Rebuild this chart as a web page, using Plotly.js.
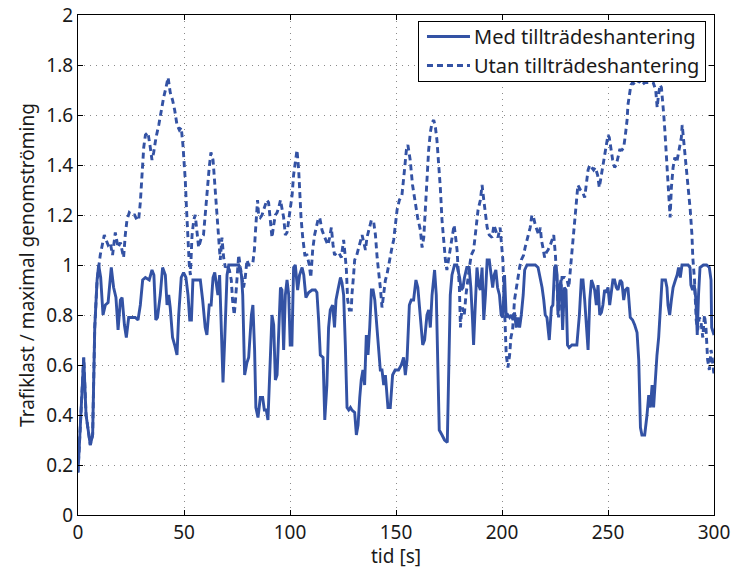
<!DOCTYPE html>
<html>
<head>
<meta charset="utf-8">
<script src="https://cdn.plot.ly/plotly-3.0.1.min.js"></script>
<style>html,body{margin:0;padding:0;background:#fff;}#chart{width:732px;height:571px;}</style>
</head>
<body>
<div id="chart"></div>
<script>
// Series names
const seriesNames = ["Med tillträdeshantering", "Utan tillträdeshantering"];
const xTitle = "tid [s]";
const yTitle = "Trafiklast / maximal genomströming";

// Med tillträdeshantering (solid)
const tMed = [0,2.7,3.8,5.8,6.9,7.9,9.0,9.75,10.7,11.8,12.9,14.2,15.7,16.8,17.9,18.9,20,20.8,21.9,22.8,23.9,27,28.3,29.4,30.5,31.8,33.6,34.9,35.8,36.7,37.5,38.8,39.9,41.2,42,42.8,43.5,44.6,45.6,46.7,47.5,48.7,49.8,50.9,51.9,52.7,53.5,54.2,55.3,57.7,58.8,60,60.8,61.9,62.8,63.7,64.5,65.2,66,66.8,67.6,68.4,69.2,70.3,71.1,75.8,77.1,77.7,78.6,79.7,80.5,81.8,82.5,83.3,83.9,84.9,86,87.1,87.9,88.8,89.6,90.7,91.5,92.3,93.1,93.9,94.7,95.5,96.2,97,97.8,98.6,99.4,100.1,100.9,101.7,102.5,103.6,104.5,105.7,106.5,107.5,108.8,110.4,111.9,112.7,113.5,114.3,115.6,116.4,117.4,118.2,119,120.1,121,121.7,122.6,123.8,124.5,125.3,126.1,126.9,127.7,128.5,129.2,130.5,131.3,132.1,132.9,133.6,134.4,135.2,136,136.8,137.6,138.4,139.2,140,141.1,141.8,142.6,143.4,144.2,145,146.2,147.3,148.4,149.6,151.2,152.5,153.6,154.4,155.2,156.3,157.2,158.3,159.4,160.3,161.4,162.6,163.5,164.6,165.4,166.2,167,168.2,169,169.8,170.4,171.7,172.9,174.2,174.8,175.6,176.4,177.6,178.7,180,180.8,181.6,182.3,183.4,184.5,185.3,186.1,186.6,187.3,188.2,189,189.8,190.6,191.4,192.2,193,194,194.8,195.6,196.3,197.1,197.9,198.8,199.6,200.4,201.2,202,202.8,203.6,204.4,205.2,205.9,206.7,207.5,208.3,209.1,210,210.7,211.8,213.4,215.7,217,218.1,218.9,219.7,220.4,221.2,222.3,223.3,224,224.8,225.4,226,226.4,227,227.8,228.6,229.4,230.2,230.9,231.7,233,235.3,236.5,237.4,238.2,239,239.8,240.6,241.4,242.2,243,243.7,244.5,245.3,246.1,246.9,247.6,248.4,249.2,250,250.8,251.5,252.3,253.1,253.9,254.7,255.8,256.6,257.4,258.2,259.4,260.5,261.6,262.6,263.7,264.5,265.3,266,267.3,268.4,269.2,270,270.8,271.5,272.3,273.1,273.9,274.7,275.5,277.1,277.8,278.3,279.1,279.9,280.7,281.8,282.6,283.3,284.1,284.9,285.9,286.9,287.8,288.7,289.1,289.9,290.7,291.5,292.1,292.7,293.4,295,296.5,297.8,298.6,298.9,300];
const vMed = [0.17,0.63,0.40,0.28,0.32,0.75,0.94,1.0,0.95,0.80,0.84,0.85,0.99,0.91,0.87,0.74,0.86,0.87,0.76,0.71,0.79,0.79,0.78,0.84,0.94,0.95,0.94,0.98,0.96,0.78,0.79,0.88,0.99,0.96,0.84,0.88,0.83,0.71,0.68,0.64,0.80,0.95,0.97,0.95,0.88,0.78,0.78,0.94,0.94,0.94,0.86,0.75,0.72,0.84,0.84,0.95,0.97,0.93,0.88,0.96,0.75,0.53,0.70,0.96,1.0,1.0,0.96,0.88,0.56,0.61,0.63,0.80,0.84,0.66,0.43,0.39,0.47,0.47,0.42,0.42,0.38,0.59,0.80,0.76,0.54,0.56,0.75,0.91,0.90,0.66,0.88,0.94,0.88,0.68,0.68,0.99,1.0,0.90,0.96,0.99,0.96,0.87,0.89,0.90,0.90,0.89,0.78,0.64,0.63,0.38,0.52,0.75,0.82,0.84,0.75,0.86,0.90,0.95,0.93,0.88,0.68,0.43,0.42,0.43,0.42,0.41,0.32,0.36,0.47,0.54,0.58,0.52,0.72,0.64,0.75,0.90,0.90,0.86,0.74,0.67,0.58,0.58,0.52,0.56,0.43,0.43,0.56,0.58,0.58,0.60,0.63,0.56,0.62,0.84,0.86,0.86,0.94,0.91,0.78,0.68,0.70,0.80,0.82,0.75,0.88,0.98,0.88,0.62,0.34,0.32,0.30,0.29,0.62,0.88,0.96,1.0,1.0,0.95,0.90,0.91,0.95,0.99,0.99,0.91,0.78,0.68,0.82,0.99,0.92,0.90,0.99,0.78,0.88,1.02,1.02,0.95,0.91,0.96,0.98,0.91,0.88,0.80,0.79,0.96,0.79,0.80,0.79,0.80,0.78,0.81,0.75,0.79,0.75,0.80,0.88,0.98,1.0,1.0,1.0,0.99,0.95,0.91,0.86,0.80,0.79,0.70,0.83,0.84,0.99,1.0,0.96,0.80,0.90,0.94,0.74,0.91,0.90,0.68,0.67,0.68,0.68,0.80,0.94,0.94,0.86,0.75,0.66,0.86,0.94,0.92,0.90,0.84,0.92,0.80,0.81,0.84,0.90,0.89,0.91,0.84,0.88,0.94,0.94,0.91,0.90,0.94,0.93,0.86,0.90,0.91,0.79,0.78,0.76,0.73,0.62,0.35,0.32,0.32,0.40,0.48,0.43,0.52,0.43,0.55,0.64,0.71,0.82,0.94,0.94,0.91,0.84,0.80,0.86,0.91,0.94,0.96,0.99,0.95,1.0,1.0,1.0,1.0,0.99,0.92,0.90,0.92,0.86,0.72,0.88,0.99,1.0,1.0,0.99,0.94,0.75,0.72];

// Utan tillträdeshantering (dashed)
const tUtan = [0,2.7,3.8,5.8,6.9,7.9,9.0,9.75,10.5,12.4,14.2,15.2,16.3,17.6,18.9,20,21.5,22.3,23.1,24.2,25.5,26.7,27.8,28.6,29.4,30.2,31,31.8,33,34.1,34.9,35.7,36.8,38.1,39.3,40.4,41.5,42.5,43.5,44.6,45.6,46.7,47.8,48.7,49.5,50.3,50.6,51.1,51.6,51.9,52.5,53.0,53.5,53.8,54.6,55.3,56.9,58.2,59.2,60,60.8,61.9,62.7,63.7,64.3,65,65.9,66.7,67.1,67.9,68.7,69.5,70.3,71.4,72.3,72.9,73.7,74.2,75,75.8,76.6,78.1,78.9,79.7,80.5,81.6,82.5,83.2,83.6,84.1,84.7,85.2,86,86.8,88.2,89.1,89.9,90.7,91.5,92.3,93.1,93.9,94.7,95.5,96.2,97,97.8,98.6,99.4,100.1,101,101.7,102.5,103.3,104.1,104.6,105.2,106,107,108,109.1,109.8,110.7,111.6,112.5,113.2,114,115.1,116.4,117.9,118.7,119.5,120.3,121,122.2,123,124.2,125.3,126.1,126.6,127.2,128,128.9,129.2,130,130.5,131.5,132.4,133.2,134,134.8,135.6,136.3,137.1,138.4,139.5,140.3,141.1,141.8,142.6,143.4,144.2,145,145.7,146.5,147.3,148.1,148.9,149.6,150.5,151.6,152.8,154,154.9,155.6,156.7,157.8,159.1,160.2,161.5,162.3,163.1,163.8,164.6,165.4,166.2,167,167.8,168.6,169.3,170.1,170.9,171.7,172.5,173.3,174,174.8,175.6,176.4,177.4,178,178.8,179.2,179.9,180.4,180.8,181.4,182.2,183,183.9,184.6,185.5,186.6,187.4,188.2,188.7,189.8,190.6,191.4,192.2,193,194,195.3,196.2,197.1,198.1,199.1,199.9,200.4,200.7,201.2,201.6,202,202.8,203.6,204.2,205,205.9,206.7,207.5,208.3,209.1,210.2,210.9,211.8,212.6,213.3,214.1,214.9,215.7,216.5,217.3,218.1,218.6,219.3,220.1,220.9,221.7,222.8,223.6,224.4,225.2,226,226.7,227.5,228.3,229.6,230.7,231.5,232.3,233.1,233.9,234.3,235,235.8,237,238.1,239,239.8,240.6,241.4,242.2,243.2,244,245.1,245.9,246.7,247.5,248.4,249.2,250,250.6,251.4,252.2,253.1,253.9,254.7,255.5,256.6,257.4,258.2,259,259.4,260.2,260.8,261.6,262.8,264.3,265.9,267.4,269.8,271.3,272.5,273.2,273.7,274.5,275.2,275.7,276.3,276.8,277.3,277.9,278.4,278.8,279.3,279.9,280.7,281.5,282.4,283.3,284.1,284.6,285,285.7,286.5,287.2,288,288.8,289.6,290,290.8,291.6,292.3,293.1,293.9,294.7,295.5,296.2,297,297.8,298.6,299,300];
const vUtan = [0.17,0.63,0.40,0.28,0.32,0.75,0.94,1.0,1.04,1.12,1.08,1.09,1.04,1.13,1.07,1.09,1.03,1.12,1.18,1.21,1.20,1.20,1.18,1.18,1.25,1.36,1.47,1.52,1.53,1.47,1.42,1.45,1.51,1.56,1.62,1.67,1.71,1.75,1.69,1.66,1.62,1.56,1.54,1.55,1.48,1.40,1.34,1.24,1.15,1.07,1.00,0.96,1.05,1.12,1.18,1.20,1.07,1.11,1.12,1.20,1.31,1.39,1.45,1.42,1.35,1.26,1.15,1.06,1.02,1.11,1.03,0.99,1.00,0.98,0.94,0.86,0.80,0.85,0.94,1.04,0.99,0.91,0.95,1.02,1.00,1.00,1.01,1.06,1.12,1.20,1.26,1.20,1.19,1.20,1.24,1.26,1.25,1.19,1.11,1.16,1.20,1.21,1.23,1.26,1.22,1.19,1.12,1.13,1.18,1.22,1.28,1.36,1.42,1.46,1.38,1.28,1.19,1.11,1.04,1.04,1.00,0.95,1.06,1.12,1.16,1.18,1.19,1.14,1.11,1.08,1.11,1.15,1.08,1.04,1.05,1.05,1.03,1.10,1.03,0.98,0.86,0.82,0.82,0.88,0.96,1.02,1.04,1.07,1.10,1.12,1.09,1.06,1.11,1.14,1.18,1.17,1.12,1.03,0.98,0.91,0.83,0.88,0.94,0.96,1.00,1.04,1.07,1.10,1.16,1.22,1.26,1.28,1.38,1.46,1.48,1.42,1.32,1.24,1.19,1.14,1.07,1.11,1.23,1.38,1.46,1.53,1.57,1.58,1.55,1.50,1.42,1.31,1.18,1.08,1.02,0.98,1.02,1.06,1.10,1.16,1.12,1.06,1.00,0.91,0.75,0.80,0.83,0.80,0.88,0.95,0.99,1.04,1.06,1.12,1.20,1.22,1.26,1.32,1.26,1.20,1.15,1.12,1.11,1.16,1.14,1.11,1.15,1.07,1.02,0.94,0.80,0.72,0.64,0.59,0.64,0.71,0.74,0.86,0.91,0.95,0.99,1.02,1.04,1.07,1.10,1.12,1.15,1.20,1.19,1.16,1.14,1.12,1.15,1.10,1.07,1.03,1.05,1.06,1.08,1.10,1.12,1.04,0.88,0.79,0.88,0.95,0.95,0.94,0.91,0.99,1.07,1.15,1.20,1.27,1.32,1.30,1.29,1.27,1.32,1.38,1.40,1.39,1.38,1.39,1.36,1.31,1.35,1.39,1.44,1.47,1.52,1.51,1.46,1.42,1.39,1.40,1.43,1.46,1.46,1.47,1.52,1.58,1.64,1.69,1.72,1.73,1.72,1.74,1.72,1.73,1.73,1.73,1.70,1.63,1.67,1.72,1.71,1.67,1.60,1.54,1.47,1.40,1.34,1.26,1.19,1.31,1.39,1.43,1.41,1.45,1.48,1.51,1.56,1.50,1.42,1.36,1.28,1.22,1.12,1.03,0.94,0.78,0.74,0.79,0.77,0.71,0.80,0.75,0.62,0.58,0.66,0.64,0.56];

const lineColor = '#3352a4';
const fontFam = '"Noto Sans", "Open Sans", sans-serif';

const traces = [
  {x: tMed, y: vMed, name: seriesNames[0], type: 'scatter', mode: 'lines',
   line: {color: lineColor, width: 2.9}},
  {x: tUtan, y: vUtan, name: seriesNames[1], type: 'scatter', mode: 'lines',
   line: {color: lineColor, width: 2.9, dash: '6px,4px'}}
];

const axisCommon = {
  showline: true, mirror: 'ticks', linecolor: '#000', linewidth: 1,
  ticks: 'inside', ticklen: 5, tickcolor: '#000',
  showgrid: true, gridcolor: '#8a8a8a', griddash: '1px,5px', gridwidth: 1,
  zeroline: false, tickfont: {family: fontFam, size: 19, color: '#1a1a1a'}
};

const layout = {
  width: 732, height: 571,
  margin: {l: 78, r: 18, t: 15, b: 56},
  paper_bgcolor: '#fff', plot_bgcolor: '#fff',
  font: {family: fontFam, color: '#1a1a1a'},
  xaxis: Object.assign({}, axisCommon, {
    range: [0, 300], dtick: 50, tick0: 0,
    title: {text: xTitle, font: {family: fontFam, size: 19, color: '#1a1a1a'}, standoff: 0}
  }),
  yaxis: Object.assign({}, axisCommon, {
    range: [0, 2], dtick: 0.2, tick0: 0,
    title: {text: yTitle, font: {family: fontFam, size: 19, color: '#1a1a1a'}, standoff: 6}
  }),
  legend: {
    x: 0.9874, y: 0.988, xanchor: 'right', yanchor: 'top',
    bgcolor: '#fff', bordercolor: '#000', borderwidth: 1,
    itemwidth: 45, tracegroupgap: 0,
    font: {family: fontFam, size: 20, color: '#1a1a1a'}
  },
  showlegend: true
};

Plotly.newPlot('chart', traces, layout, {displayModeBar: false, staticPlot: true}).then(function (gd) {
  // lengthen legend line samples to match the reference (styling only)
  gd.querySelectorAll('.legend .legendlines path').forEach(function (p) {
    p.setAttribute('d', 'M8,0h43');
  });
  // tighten legend vertical padding
  const bg = gd.querySelector('.legend rect.bg');
  const sb = gd.querySelector('.legend .scrollbox');
  if (bg && sb) {
    const h = parseFloat(bg.getAttribute('height'));
    bg.setAttribute('height', h - 9);
    const tr = sb.getAttribute('transform') || '';
    sb.setAttribute('transform', tr + ' translate(0,-5)');
  }
  // nudge x-axis title up slightly
  const xt = gd.querySelector('.xtitle');
  if (xt) {
    const y = parseFloat(xt.getAttribute('y'));
    xt.setAttribute('y', y - 2);
  }
});
</script>
</body>
</html>
